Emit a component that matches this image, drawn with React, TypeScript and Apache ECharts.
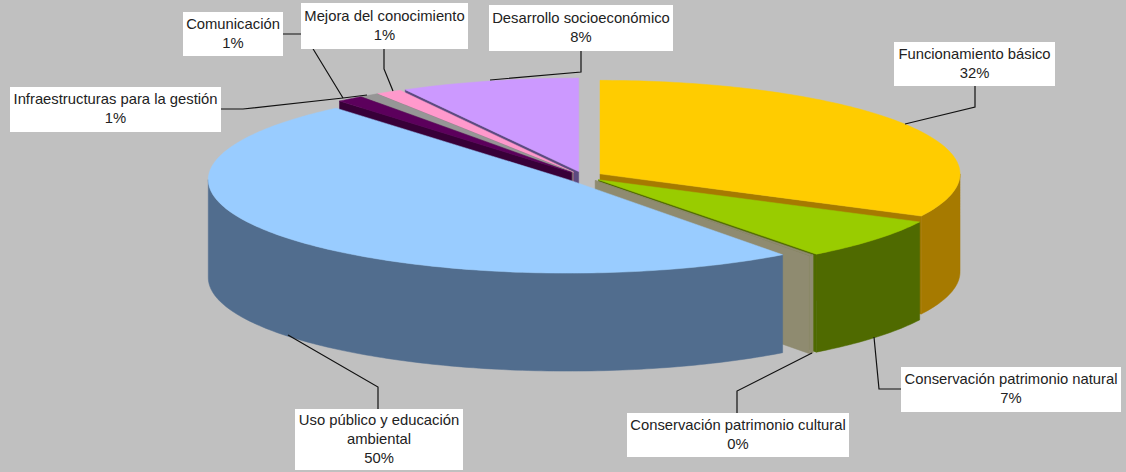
import React, { useEffect, useRef } from "react";
import * as echarts from "echarts";

// ---- data ----
const categories = [
  "Funcionamiento básico",
  "Conservación patrimonio natural",
  "Conservación patrimonio cultural",
  "Uso público y educación\nambiental",
  "Infraestructuras para la gestión",
  "Comunicación",
  "Mejora del conocimiento",
  "Desarrollo socioeconómico",
];
const percentLabels = ["32%", "7%", "0%", "50%", "1%", "1%", "1%", "8%"];
const values = [32.45, 7.2, 0.2, 49.0, 1.2, 0.8, 1.15, 8.0];
const topColors = ["#ffcc00", "#99cc00", "#8f8b70", "#99ccff", "#5c005c", "#969696", "#ff99cc", "#cc99ff"];
const sideColors = ["#a67a00", "#4f6a00", "#8f8b70", "#516d8e", "#380038", "#6a6a6a", "#a06080", "#5c4a80"];
// painter's order: back slices first, clockwise-front slices last
const drawOrder = [7, 6, 5, 4, 0, 1, 2, 3];

// ---- 3D pie projection ----
const CX = 583.5;
const CY = 176.5;
const RX = 360;
const RY = 93.5;
const DEPTH = 98;
const EXPLODE = 19.4;

// ---- label boxes: [x, y, w, h] and leader polylines, by category index ----
const boxes = [
  [894, 42, 161, 44],
  [901, 367, 220, 45],
  [627, 413, 222, 44],
  [295, 409, 168, 61],
  [10, 87, 211, 45],
  [183, 12, 100, 44],
  [301, 3, 167, 46],
  [489, 5, 184, 46],
];
const leaders = [
  [[905, 124], [975, 107], [975, 86]],
  [[874, 337], [879, 389], [901, 389]],
  [[812, 353], [737, 391], [737, 413]],
  [[288, 335], [378, 387], [378, 409]],
  [[221, 109], [243, 109], [343, 98], [367, 95]],
  [[283, 34], [304, 34], [343, 98]],
  [[393, 91], [384, 69], [384, 49]],
  [[490, 80], [581, 72], [581, 51]],
];

const total = values.reduce((a, b) => a + b, 0);
const starts: number[] = [];
values.reduce((acc, v, i) => {
  starts[i] = (acc / total) * 360;
  return acc + v;
}, 0);

const rad = (d: number) => (d * Math.PI) / 180;
const arcPoints = (x0: number, y0: number, a: number, b: number) => {
  const n = Math.max(2, Math.ceil(Math.abs(b - a)));
  const pts: number[][] = [];
  for (let k = 0; k <= n; k++) {
    const t = rad(a + ((b - a) * k) / n);
    pts.push([x0 + RX * Math.sin(t), y0 - RY * Math.cos(t)]);
  }
  return pts;
};

function renderSlice(params: any) {
  const idx = drawOrder[params.dataIndex];
  const s = starts[idx];
  const e = s + (values[idx] / total) * 360;
  const mid = rad((s + e) / 2);
  const x0 = CX + EXPLODE * Math.sin(mid);
  const y0 = CY - (EXPLODE * Math.cos(mid) * RY) / RX;
  const side = sideColors[idx];
  const style = (fill: string) => ({ fill, stroke: fill, lineWidth: 0.5 });
  const children: any[] = [];
  const face = (ang: number) => {
    const p = arcPoints(x0, y0, ang, ang)[0];
    children.push({
      type: "polygon",
      shape: { points: [[x0, y0], p, [p[0], p[1] + DEPTH], [x0, y0 + DEPTH]] },
      style: style(side),
    });
  };
  if (Math.sin(rad(s)) < 0) face(s);
  if (Math.sin(rad(e)) > 0) face(e);
  const a = Math.max(s, 90);
  const b = Math.min(e, 270);
  if (b > a) {
    const upper = arcPoints(x0, y0, a, b);
    const lower = upper.map((p) => [p[0], p[1] + DEPTH]).reverse();
    children.push({ type: "polygon", shape: { points: upper.concat(lower) }, style: style(side) });
  }
  children.push({
    type: "polygon",
    shape: { points: [[x0, y0], ...arcPoints(x0, y0, s, e)] },
    style: style(topColors[idx]),
  });
  return { type: "group", children };
}

export default function App() {
  const ref = useRef<HTMLDivElement>(null);
  useEffect(() => {
    const chart = echarts.init(ref.current!, null, { renderer: "svg" });
    const graphics: any[] = [];
    leaders.forEach((pts) => {
      graphics.push({
        type: "polyline",
        z: 100,
        shape: { points: pts },
        style: { stroke: "#111111", lineWidth: 1.2, fill: "none" },
      });
    });
    categories.forEach((name, i) => {
      const [x, y, w, h] = boxes[i];
      graphics.push({
        type: "rect",
        z: 101,
        shape: { x, y, width: w, height: h },
        style: { fill: "#ffffff" },
      });
      graphics.push({
        type: "text",
        z: 102,
        x: x + w / 2,
        y: y + h / 2 - 1,
        style: {
          text: `${name}\n${percentLabels[i]}`,
          fill: "#222222",
          font: '14.8px "Liberation Sans", Arial, sans-serif',
          align: "center",
          verticalAlign: "middle",
          lineHeight: 19,
        },
      });
    });
    chart.setOption({
      animation: false,
      backgroundColor: "#c0c0c0",
      series: [
        {
          type: "custom",
          coordinateSystem: "none",
          silent: true,
          renderItem: renderSlice,
          data: drawOrder.map((i) => [values[i]]),
        },
      ],
      graphic: graphics,
    });
    return () => chart.dispose();
  }, []);
  return <div ref={ref} style={{ position: "fixed", left: 0, top: 0, width: 1126, height: 472 }} />;
}
